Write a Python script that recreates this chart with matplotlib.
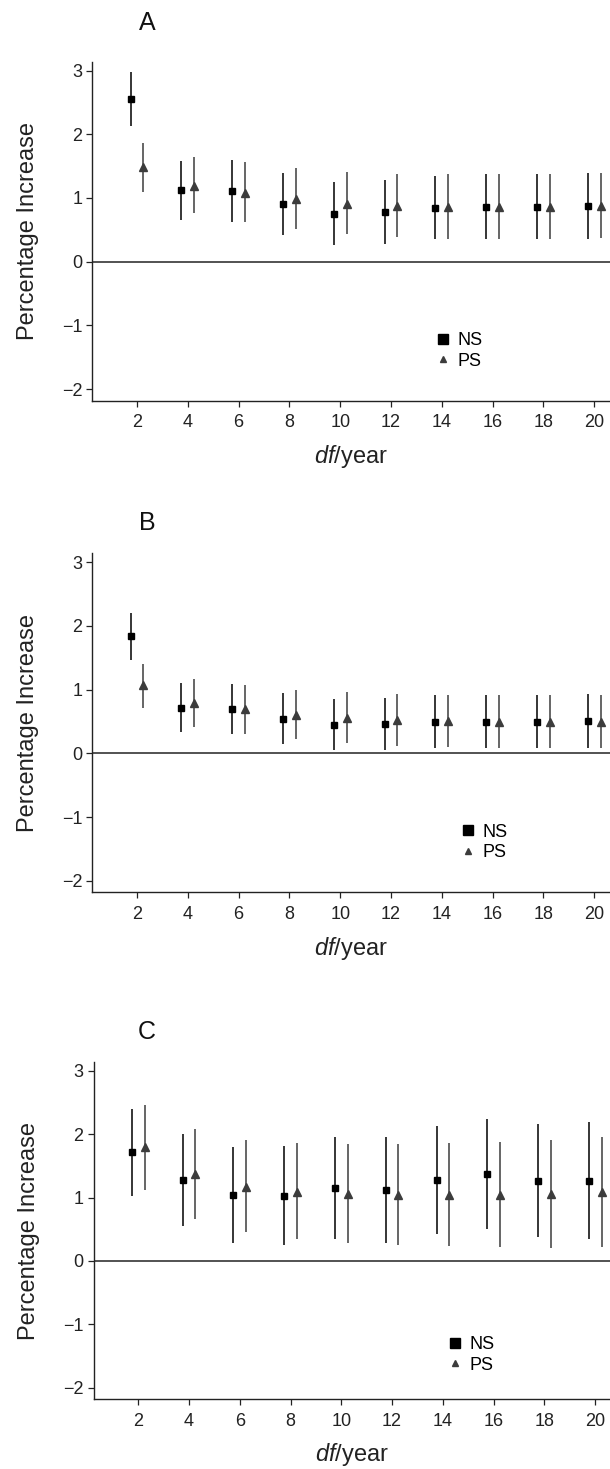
import numpy as np
import matplotlib
matplotlib.use('Agg')
from matplotlib import pyplot as plt
from matplotlib.lines import Line2D

plt.rcParams['font.family'] = ['Liberation Sans', 'DejaVu Sans']
plt.rcParams['mathtext.fontset'] = 'custom'
plt.rcParams['mathtext.it'] = 'Liberation Sans:italic'
plt.rcParams['mathtext.rm'] = 'Liberation Sans'

df = [2, 4, 6, 8, 10, 12, 14, 16, 18, 20]

# panel A
a_ns = [2.55, 1.12, 1.11, 0.91, 0.75, 0.78, 0.85, 0.86, 0.86, 0.87]
a_ns_lo = [2.13, 0.66, 0.63, 0.42, 0.26, 0.28, 0.35, 0.35, 0.35, 0.35]
a_ns_hi = [2.98, 1.58, 1.60, 1.40, 1.25, 1.28, 1.35, 1.37, 1.37, 1.40]
a_ps = [1.49, 1.19, 1.08, 0.98, 0.91, 0.87, 0.86, 0.86, 0.86, 0.87]
a_ps_lo = [1.09, 0.76, 0.62, 0.51, 0.44, 0.39, 0.36, 0.35, 0.35, 0.37]
a_ps_hi = [1.87, 1.65, 1.56, 1.47, 1.41, 1.38, 1.37, 1.37, 1.37, 1.40]

# panel B
b_ns = [1.84, 0.72, 0.69, 0.54, 0.44, 0.46, 0.50, 0.50, 0.50, 0.51]
b_ns_lo = [1.47, 0.34, 0.30, 0.14, 0.05, 0.06, 0.09, 0.09, 0.09, 0.09]
b_ns_hi = [2.20, 1.10, 1.09, 0.94, 0.85, 0.87, 0.91, 0.91, 0.91, 0.93]
b_ps = [1.07, 0.79, 0.69, 0.60, 0.55, 0.52, 0.51, 0.50, 0.50, 0.50]
b_ps_lo = [0.72, 0.42, 0.31, 0.22, 0.16, 0.12, 0.10, 0.09, 0.09, 0.09]
b_ps_hi = [1.41, 1.16, 1.08, 1.00, 0.96, 0.93, 0.91, 0.91, 0.91, 0.91]

# panel C
c_ns = [1.71, 1.27, 1.04, 1.02, 1.15, 1.12, 1.27, 1.37, 1.26, 1.26]
c_ns_lo = [1.02, 0.55, 0.29, 0.25, 0.35, 0.29, 0.42, 0.50, 0.37, 0.34]
c_ns_hi = [2.39, 2.00, 1.80, 1.81, 1.96, 1.95, 2.12, 2.24, 2.16, 2.19]
c_ps = [1.79, 1.37, 1.17, 1.09, 1.06, 1.04, 1.04, 1.04, 1.05, 1.08]
c_ps_lo = [1.12, 0.66, 0.45, 0.35, 0.29, 0.25, 0.24, 0.22, 0.21, 0.22]
c_ps_hi = [2.46, 2.08, 1.91, 1.86, 1.84, 1.84, 1.86, 1.88, 1.91, 1.95]

panels = [
    ('A', a_ns, a_ns_lo, a_ns_hi, a_ps, a_ps_lo, a_ps_hi),
    ('B', b_ns, b_ns_lo, b_ns_hi, b_ps, b_ps_lo, b_ps_hi),
    ('C', c_ns, c_ns_lo, c_ns_hi, c_ps, c_ps_lo, c_ps_hi),
]

W, H = 610, 1469
fig = plt.figure(figsize=(W / 100, H / 100), dpi=100)

# pixel boxes (left, top, right, bottom) of each panel
boxes = [(92.3, 61.7, 610, 400.5), (92.3, 553.3, 610, 892.3), (93.5, 1061.7, 611, 1399.3)]
letter_y = [23, 523, 1032]
legend_pos = [(13.85, -1.40), (14.8, -1.40), (14.25, -1.48)]

ns_color = 'black'
ps_color = '#3c3c3c'
x = np.array(df, dtype=float)

for i, (name, ns, ns_lo, ns_hi, ps, ps_lo, ps_hi) in enumerate(panels):
    l, t, r, b = boxes[i]
    ax = fig.add_axes([l / W, 1 - b / H, (r - l) / W, (b - t) / H])
    ns, ns_lo, ns_hi = np.array(ns), np.array(ns_lo), np.array(ns_hi)
    ps, ps_lo, ps_hi = np.array(ps), np.array(ps_lo), np.array(ps_hi)

    ax.axhline(0, color='#444444', lw=1.3, zorder=1)
    ax.errorbar(x - 0.25, ns, yerr=[ns - ns_lo, ns_hi - ns], fmt='s', color=ns_color,
                ecolor=ns_color, elinewidth=1.1, capsize=0, markersize=4.5, zorder=3)
    ax.errorbar(x + 0.25, ps, yerr=[ps - ps_lo, ps_hi - ps], fmt='^', color=ps_color,
                ecolor=ps_color, elinewidth=1.1, capsize=0, markersize=5.5, zorder=3)

    ax.set_xlim(0.24, 20.62)
    ax.set_ylim(-2.18, 3.14)
    ax.set_xticks(df)
    ax.set_yticks([-2, -1, 0, 1, 2, 3])
    ax.spines['top'].set_visible(False)
    ax.spines['right'].set_visible(False)
    for s in ['left', 'bottom']:
        ax.spines[s].set_linewidth(1.0)
        ax.spines[s].set_color('#222222')
    ax.tick_params(direction='out', length=4.2, width=0.9, labelsize=13,
                   colors='#222222')
    ax.tick_params(axis='x', pad=5.5)
    ax.tick_params(axis='y', pad=3)

    ax.set_ylabel('Percentage Increase', fontsize=17, color='#222222')
    ax.yaxis.set_label_coords(-0.103, 0.5)
    ax.set_xlabel(r'$\it{df}$/year', fontsize=17, color='#222222')
    ax.xaxis.set_label_coords(0.5, -0.125)

    handles = [Line2D([], [], marker='s', ls='none', color=ns_color, markersize=6.5),
               Line2D([], [], marker='^', ls='none', color=ps_color, markersize=5)]
    ax.legend(handles, ['NS', 'PS'], loc='center left', bbox_to_anchor=legend_pos[i],
              bbox_transform=ax.transData, frameon=False, fontsize=13,
              handlelength=0.6, handletextpad=0.5, labelspacing=0.2,
              borderpad=0, borderaxespad=0)

    fig.text(147 / W, 1 - letter_y[i] / H, name, fontsize=18, ha='center', va='center',
             color='#111111')

fig.savefig('out.png', dpi=100)
